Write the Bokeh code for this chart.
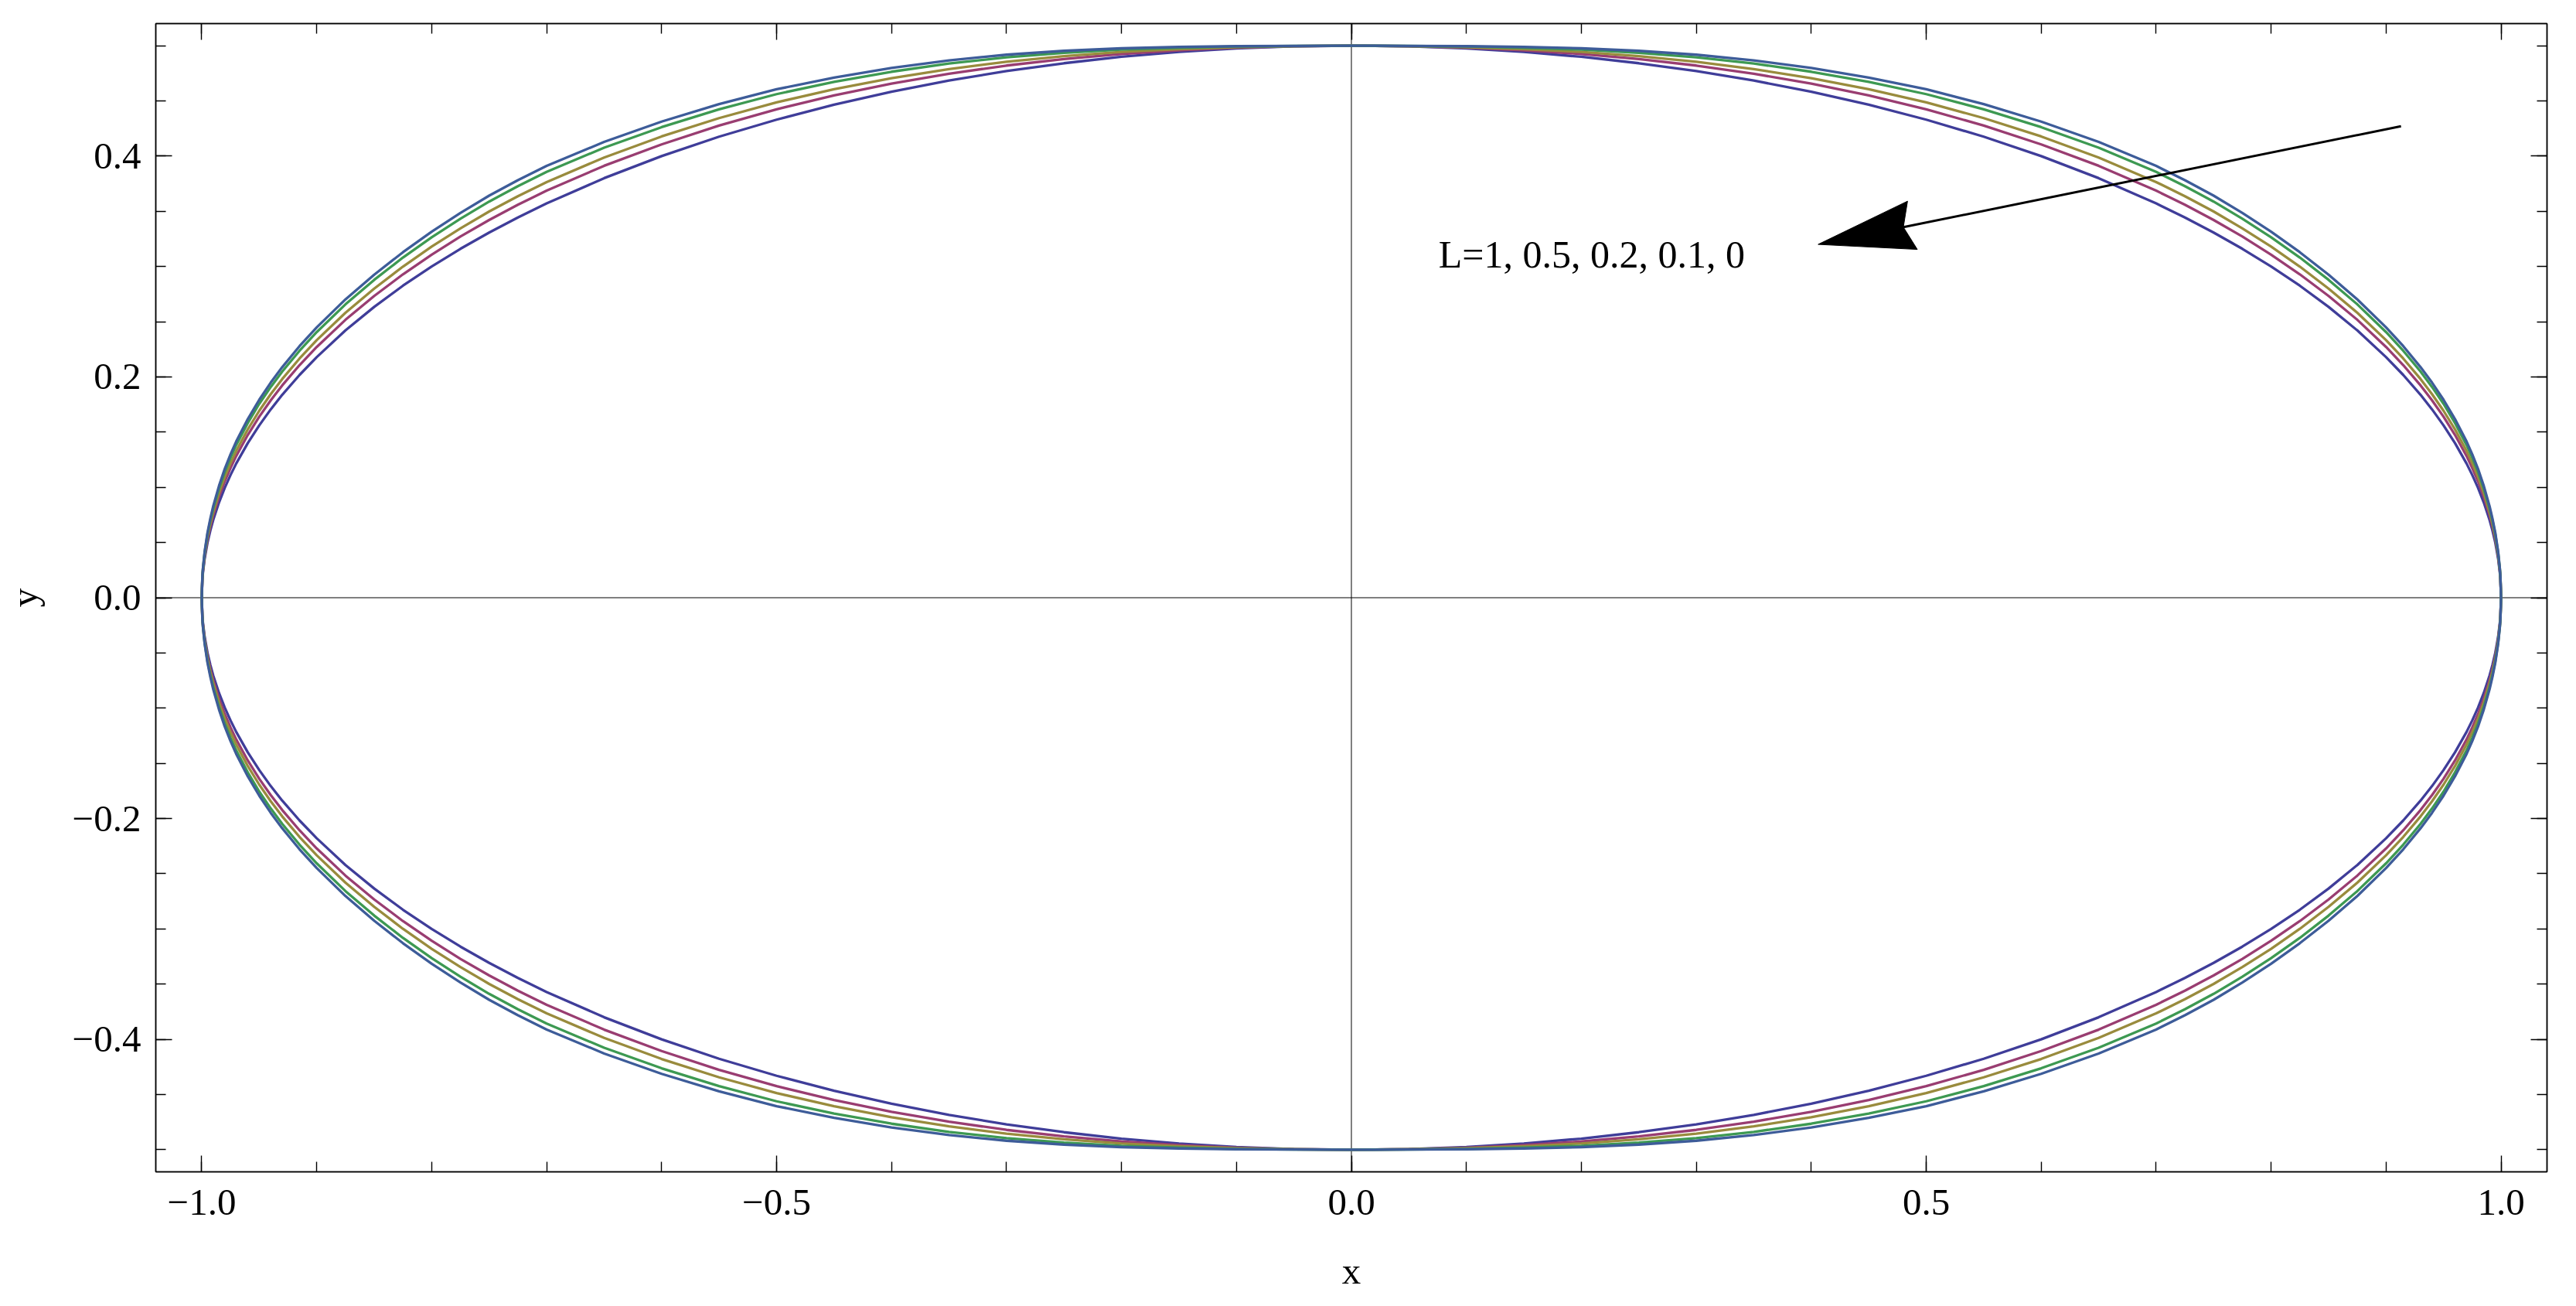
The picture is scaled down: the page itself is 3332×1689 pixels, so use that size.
from bokeh.plotting import figure
from bokeh.models import FixedTicker, LinearAxis, Span, CustomJSTickFormatter, Range1d
from bokeh.embed import file_html
from bokeh.resources import INLINE
from bokeh.core.properties import value

# ---------------- data (first quadrant; curves are symmetric) -------------
x_quadrant = [0.0, 0.05, 0.10, 0.15, 0.20, 0.25, 0.30, 0.35, 0.40, 0.45, 0.50, 0.55, 0.60,
              0.65, 0.70, 0.725, 0.75, 0.775, 0.80, 0.825, 0.85, 0.875, 0.90, 0.915, 0.93,
              0.94, 0.95, 0.96, 0.97, 0.975, 0.98, 0.985, 0.99, 0.9925, 0.995, 0.9975,
              0.999, 0.9995, 1.0]

y_L1 = [0.5000, 0.4994, 0.4975, 0.4943, 0.4899, 0.4841, 0.4770, 0.4684, 0.4583, 0.4465, 0.4330,
        0.4176, 0.4000, 0.3800, 0.3571, 0.3444, 0.3307, 0.3160, 0.3000, 0.2826, 0.2634, 0.2421,
        0.2179, 0.2017, 0.1838, 0.1706, 0.1561, 0.1400, 0.1216, 0.1111, 0.0995, 0.0863, 0.0705,
        0.0611, 0.0500, 0.0353, 0.0224, 0.0158, 0.0]
y_L05 = [0.5000, 0.4995, 0.4982, 0.4958, 0.4925, 0.4879, 0.4820, 0.4746, 0.4656, 0.4549, 0.4424,
         0.4276, 0.4106, 0.3912, 0.3687, 0.3559, 0.3421, 0.3271, 0.3107, 0.2929, 0.2733, 0.2517,
         0.2271, 0.2106, 0.1923, 0.1788, 0.1640, 0.1474, 0.1284, 0.1175, 0.1054, 0.0914, 0.0748,
         0.0648, 0.0531, 0.0374, 0.0238, 0.0168, 0.0]
y_L02 = [0.5000, 0.4996, 0.4986, 0.4969, 0.4943, 0.4905, 0.4854, 0.4788, 0.4706, 0.4605, 0.4487,
         0.4344, 0.4178, 0.3987, 0.3765, 0.3637, 0.3498, 0.3345, 0.3180, 0.2999, 0.2800, 0.2581,
         0.2333, 0.2166, 0.1981, 0.1844, 0.1693, 0.1524, 0.1330, 0.1218, 0.1093, 0.0949, 0.0776,
         0.0673, 0.0551, 0.0389, 0.0247, 0.0174, 0.0]
y_L01 = [0.5000, 0.4997, 0.4992, 0.4981, 0.4964, 0.4935, 0.4894, 0.4838, 0.4764, 0.4672, 0.4561,
         0.4424, 0.4262, 0.4076, 0.3857, 0.3728, 0.3588, 0.3433, 0.3265, 0.3081, 0.2879, 0.2657,
         0.2406, 0.2236, 0.2048, 0.1909, 0.1756, 0.1582, 0.1384, 0.1268, 0.1140, 0.0989, 0.0810,
         0.0702, 0.0576, 0.0406, 0.0258, 0.0182, 0.0]
y_L0 = [0.5000, 0.4998, 0.4995, 0.4988, 0.4976, 0.4953, 0.4918, 0.4867, 0.4798, 0.4711, 0.4605,
        0.4471, 0.4312, 0.4128, 0.3911, 0.3782, 0.3642, 0.3485, 0.3315, 0.3129, 0.2926, 0.2702,
        0.2449, 0.2278, 0.2088, 0.1948, 0.1793, 0.1617, 0.1416, 0.1298, 0.1167, 0.1013, 0.0830,
        0.0719, 0.0590, 0.0416, 0.0264, 0.0186, 0.0]

series_names = ["L=1", "L=0.5", "L=0.2", "L=0.1", "L=0"]
series_values = [y_L1, y_L05, y_L02, y_L01, y_L0]
series_colors = ["#3f3d99", "#993d71", "#998b3d", "#3d9952", "#3d5c99"]

x_major_ticks = [-1.0, -0.5, 0.0, 0.5, 1.0]
x_minor_ticks = [-1.0, -0.9, -0.8, -0.7, -0.6, -0.5, -0.4, -0.3, -0.2, -0.1, 0.0,
                 0.1, 0.2, 0.3, 0.4, 0.5, 0.6, 0.7, 0.8, 0.9, 1.0]
y_major_ticks = [-0.4, -0.2, 0.0, 0.2, 0.4]
y_minor_ticks = [-0.5, -0.45, -0.4, -0.35, -0.3, -0.25, -0.2, -0.15, -0.1, -0.05, 0.0,
                 0.05, 0.1, 0.15, 0.2, 0.25, 0.3, 0.35, 0.4, 0.45, 0.5]

x_limits = (-1.04, 1.04)
y_limits = (-0.52, 0.52)

label_text = "L=1, 0.5, 0.2, 0.1, 0"
label_pos = (0.209, 0.311)
arrow_start = (0.913, 0.427)
arrow_end = (0.406, 0.320)

# ---------------- layout -------------
W, H = 3316, 1673
BL, BR, BT, BB = 187, 22, 30, 151
FW, FH = W - BL - BR, H - BT - BB
FONT = "Liberation Serif"
FS = "49px"


def closed_curve(xq, yq):
    xs, ys = list(xq), list(yq)
    top_x = xs[::-1] + [-x for x in xs[1:]]
    top_y = ys[::-1] + ys[1:]
    bot_x = [-x for x in xs[::-1][1:]] + xs[1:]
    bot_y = [-y for y in ys[::-1][1:]] + [-y for y in ys[1:]]
    return top_x + bot_x, top_y + bot_y


p = figure(width=W, height=H, x_range=Range1d(*x_limits), y_range=Range1d(*y_limits),
           output_backend="svg", toolbar_location=None, x_axis_type=None, y_axis_type=None,
           min_border_left=BL, min_border_right=BR, min_border_top=BT, min_border_bottom=BB)
p.background_fill_color = "white"
p.border_fill_color = "white"
p.outline_line_color = "black"
p.outline_line_width = 1.5

fmt_js = "return (tick < -1e-9 ? '\\u2212' : '') + Math.abs(tick).toFixed(1);"

bottom_ax = LinearAxis(axis_label="x")
left_ax = LinearAxis(axis_label="y")
top_ax = LinearAxis()
right_ax = LinearAxis()

for ax, major, minor in [(bottom_ax, x_major_ticks, x_minor_ticks),
                         (top_ax, x_major_ticks, x_minor_ticks),
                         (left_ax, y_major_ticks, y_minor_ticks),
                         (right_ax, y_major_ticks, y_minor_ticks)]:
    ax.ticker = FixedTicker(ticks=major, minor_ticks=minor)
    ax.major_tick_in = 21
    ax.major_tick_out = 0
    ax.minor_tick_in = 13
    ax.minor_tick_out = 0
    ax.major_tick_line_color = "black"
    ax.minor_tick_line_color = "black"
    ax.major_tick_line_width = 1.4
    ax.minor_tick_line_width = 1.4
    ax.axis_line_color = "black"
    ax.axis_line_width = 1.5
    ax.major_label_text_font = FONT
    ax.major_label_text_font_size = FS
    ax.major_label_text_color = "black"
    ax.axis_label_text_font = FONT
    ax.axis_label_text_font_size = FS
    ax.axis_label_text_font_style = "normal"
    ax.axis_label_text_color = "black"

for ax in (top_ax, right_ax):
    ax.formatter = CustomJSTickFormatter(code="return '';")
    ax.major_label_standoff = 0
    ax.major_label_text_font_size = "1px"

bottom_ax.formatter = CustomJSTickFormatter(code=fmt_js)
left_ax.formatter = CustomJSTickFormatter(code=fmt_js)
bottom_ax.major_label_standoff = 23
left_ax.major_label_standoff = 19
bottom_ax.axis_label_standoff = 42
left_ax.axis_label_standoff = 32

p.add_layout(bottom_ax, "below")
p.add_layout(left_ax, "left")
p.add_layout(top_ax, "above")
p.add_layout(right_ax, "right")

p.add_layout(Span(location=0, dimension="height", line_color="black", line_width=1, level="underlay"))
p.add_layout(Span(location=0, dimension="width", line_color="black", line_width=1, level="underlay"))

for name, ys, col in zip(series_names, series_values, series_colors):
    cx, cy = closed_curve(x_quadrant, ys)
    p.line(cx, cy, line_color=col, line_width=3.3, line_join="round")

p.text(x=[label_pos[0]], y=[label_pos[1]], text=[label_text], text_font=value(FONT),
       text_font_size="50px", text_align="center", text_baseline="alphabetic", text_color="black")

# arrow: shaft + concave head (head size in screen pixels)
sx = FW / (x_limits[1] - x_limits[0])
sy = FH / (y_limits[1] - y_limits[0])
dxp = (arrow_start[0] - arrow_end[0]) * sx
dyp = (arrow_start[1] - arrow_end[1]) * sy
ln = (dxp ** 2 + dyp ** 2) ** 0.5
ux, uy = dxp / ln, dyp / ln
nx, ny = -uy, ux
HEAD_L, HEAD_HW, NOTCH = 125, 32, 113


def px_to_data(a, b):
    return arrow_end[0] + a / sx, arrow_end[1] + b / sy


c1 = px_to_data(HEAD_L * ux + HEAD_HW * nx, HEAD_L * uy + HEAD_HW * ny)
c2 = px_to_data(HEAD_L * ux - HEAD_HW * nx, HEAD_L * uy - HEAD_HW * ny)
notch = px_to_data(NOTCH * ux, NOTCH * uy)

p.line([arrow_start[0], notch[0]], [arrow_start[1], notch[1]], line_color="black", line_width=3)
p.patch([arrow_end[0], c1[0], notch[0], c2[0]], [arrow_end[1], c1[1], notch[1], c2[1]],
        fill_color="black", line_color="black", line_width=1)

open("out.html", "w").write(file_html(p, INLINE))
